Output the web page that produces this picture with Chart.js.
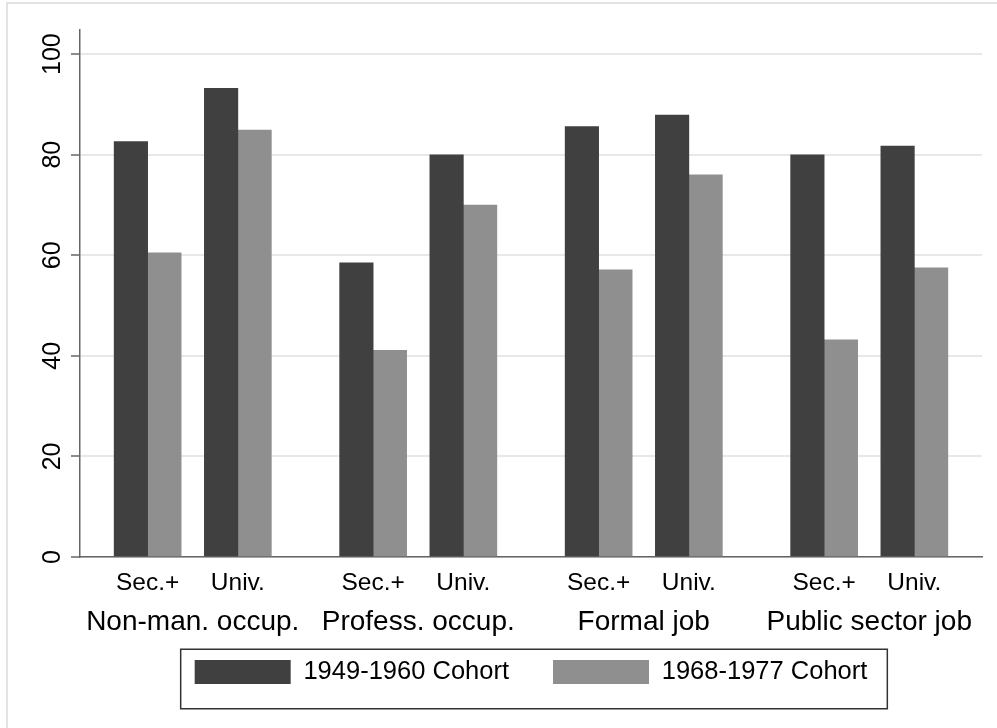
<!DOCTYPE html>
<html>
<head>
<meta charset="utf-8">
<title>Cohort comparison</title>
<script src="https://cdn.jsdelivr.net/npm/chart.js@4.4.1/dist/chart.umd.min.js"></script>
<style>
  html, body { margin: 0; padding: 0; background: #fff; }
  #wrap { width: 997px; height: 728px; position: relative; }
</style>
</head>
<body>
<div id="wrap"><canvas id="cohortChart"></canvas></div>
<script>
const groups = ["Non-man. occup.", "Profess. occup.", "Formal job", "Public sector job"];
const levels = ["Sec.+", "Univ."];
const seriesNames = ["1949-1960 Cohort", "1968-1977 Cohort"];
const cohortOld = [82.6, 93.2, 58.5, 80.0, 85.6, 87.9, 80.0, 81.7];
const cohortYoung = [60.5, 84.9, 41.1, 70.0, 57.1, 76.0, 43.2, 57.5];
const yTicks = [0, 20, 40, 60, 80, 100];

const fontFamily = "'Liberation Sans', Arial, sans-serif";

// 5 slots per group: spacer, bar pair, spacer, bar pair, spacer
const slotCount = groups.length * 5;
const levelLabels = new Array(slotCount).fill("");
const groupLabels = new Array(slotCount).fill("");
const oldData = new Array(slotCount).fill(null);
const youngData = new Array(slotCount).fill(null);

groups.forEach((group, g) => {
  groupLabels[g * 5 + 2] = group;
  levels.forEach((level, l) => {
    const slot = g * 5 + 1 + l * 2;
    const i = g * levels.length + l;
    levelLabels[slot] = level;
    oldData[slot] = cohortOld[i];
    youngData[slot] = cohortYoung[i];
  });
});

const frame = {
  id: "frame",
  beforeDraw(chart) {
    const { ctx } = chart;
    ctx.save();
    ctx.fillStyle = "#fff";
    ctx.fillRect(0, 0, chart.width, chart.height);
    ctx.strokeStyle = "#e3e3e3";
    ctx.lineWidth = 2;
    ctx.strokeRect(7, 3, chart.width + 10, chart.height + 10);
    ctx.restore();
  },
  afterDraw(chart) {
    const boxes = chart.legend && chart.legend.legendHitBoxes;
    if (!boxes || !boxes.length) return;
    const first = boxes[0];
    const last = boxes[boxes.length - 1];
    const left = first.left - 14;
    const right = last.left + last.width + 20;
    const top = first.top - 10;
    const bottom = first.top + first.height + 24;
    const { ctx } = chart;
    ctx.save();
    ctx.strokeStyle = "#333";
    ctx.lineWidth = 1.5;
    ctx.strokeRect(left, top, right - left, bottom - top);
    ctx.restore();
  }
};

new Chart(document.getElementById("cohortChart"), {
  type: "bar",
  data: {
    labels: levelLabels,
    datasets: [
      { label: seriesNames[0], data: oldData, backgroundColor: "#404040", borderWidth: 0, barThickness: 33.5 },
      { label: seriesNames[1], data: youngData, backgroundColor: "#8f8f8f", borderWidth: 0, barThickness: 33.5 }
    ]
  },
  options: {
    responsive: true,
    maintainAspectRatio: false,
    animation: false,
    layout: { padding: { left: 7, right: 15, top: 30, bottom: 33.25 } },
    scales: {
      x: {
        type: "category",
        position: "bottom",
        weight: 0,
        offset: true,
        grid: { display: false, drawTicks: false },
        border: { display: true, color: "#666", width: 1.5 },
        ticks: {
          autoSkip: false,
          maxRotation: 0,
          minRotation: 0,
          padding: 12,
          color: "#000",
          font: { family: fontFamily, size: 24.5 }
        },
        afterFit: (scale) => { scale.height = 40; }
      },
      x2: {
        type: "category",
        position: "bottom",
        weight: 1,
        offset: true,
        labels: groupLabels,
        grid: { display: false, drawTicks: false },
        border: { display: false },
        ticks: {
          autoSkip: false,
          maxRotation: 0,
          minRotation: 0,
          mirror: true,
          padding: -42.5,
          color: "#000",
          font: { family: fontFamily, size: 28 }
        },
        afterFit: (scale) => { scale.height = 18.25; }
      },
      y: {
        min: 0,
        max: 104.8,
        grid: { color: "#e8e8e8", lineWidth: 2, tickLength: 9, tickColor: "#666", tickWidth: 1.5 },
        border: { display: true, color: "#666", width: 1.5 },
        ticks: {
          minRotation: 90,
          maxRotation: 90,
          crossAlign: "center",
          padding: -3,
          color: "#000",
          font: { family: fontFamily, size: 25 }
        },
        afterBuildTicks: (scale) => { scale.ticks = yTicks.map((v) => ({ value: v })); },
        afterFit: (scale) => { scale.width = 73; }
      }
    },
    plugins: {
      legend: {
        position: "bottom",
        fullSize: false,
        labels: {
          boxWidth: 96,
          boxHeight: 24,
          padding: 44,
          color: "#000",
          font: { family: fontFamily, size: 25.5 }
        }
      },
      tooltip: { enabled: false }
    }
  },
  plugins: [frame]
});
</script>
</body>
</html>
